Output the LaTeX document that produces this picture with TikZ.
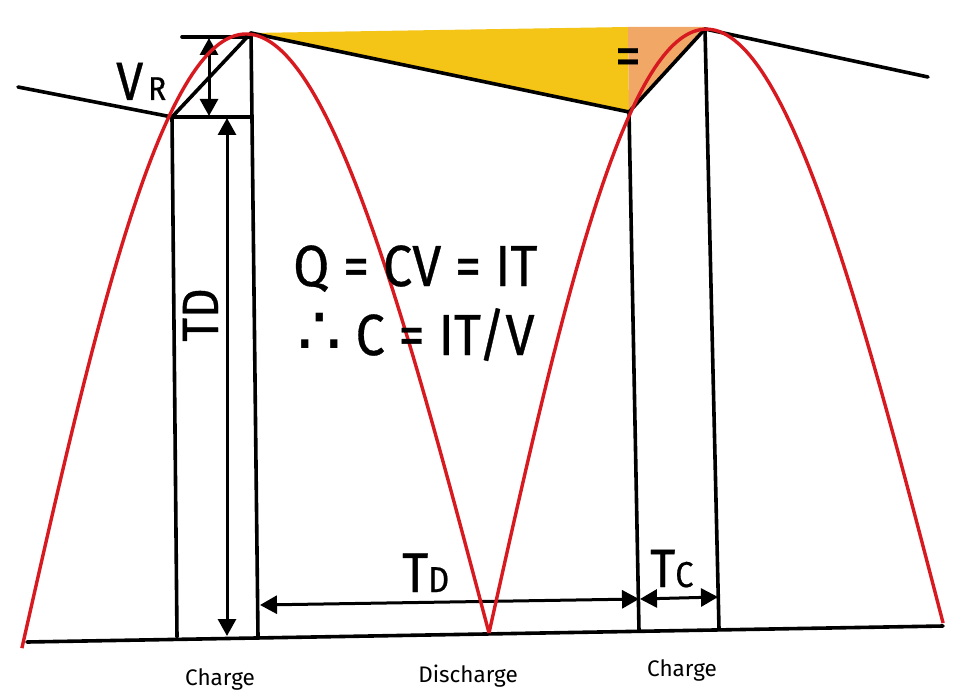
\documentclass[tikz,border=0pt]{standalone}
\usepackage{fontspec}
\setmainfont{Fira Sans}
\newfontfamily\narrowfont{Fira Sans}[FakeStretch=0.9,FakeBold=0.6]
\newfontfamily\symfont{DejaVu Sans}
\usetikzlibrary{arrows.meta,positioning,calc}
\definecolor{wavered}{HTML}{D71920}
\definecolor{fillyellow}{HTML}{F4C416}
\definecolor{fillorange}{HTML}{F1A867}
\tikzset{%
  edge line/.style={
    line width=3.6pt,
    line cap=round
  },
  wave/.style={
    wavered,
    line width=3.4pt
  },
  dim/.style={
    line width=3pt,
    {Triangle[length=17pt,width=18pt]}-{Triangle[length=17pt,width=18pt]}
  },
  big label/.style={
    inner sep=0pt,
    font=\narrowfont\fontsize{58}{62}\selectfont
  },
  phase label/.style={
    inner sep=0pt,
    anchor=base,
    font=\fontsize{22.5}{26}\selectfont
  },
}
\newcommand{\sublabel}[1]{{\fontsize{36}{40}\selectfont #1}}

\begin{document}
\begin{tikzpicture}[x=1pt,y=-1pt,line join=round]
  \useasboundingbox (0,0) rectangle (963,695);
  % corners of the ripple envelope
  \coordinate (lt) at (18,87);
  \coordinate (c1) at (172,117);
  \coordinate (p1) at (251,33);
  \coordinate (c2) at (629,112);
  \coordinate (p2) at (705,29);
  \coordinate (rt) at (928,77);
  \coordinate (c1b) at (177,637);
  \coordinate (p1b) at (258,637);
  \coordinate (c2b) at (639,631);
  \coordinate (p2b) at (719,629);
  \coordinate (c1r) at (252,117);
  \coordinate (vrl) at (182,37);
  \coordinate (vrr) at (250,37);
  \coordinate (bl) at (27,642);
  \coordinate (br) at (943,626);
  \coordinate (ytop) at (628,27);
  \coordinate (otop) at (704,27);
  % dimension ends
  \coordinate (vrtop) at (209,38);
  \coordinate (vrbot) at (209,116);
  \coordinate (tdtop) at (227,118);
  \coordinate (tdbot) at (227,636);
  \coordinate (tdl) at (260,605);
  \coordinate (tdr) at (639,599);
  \coordinate (tcl) at (640,599);
  \coordinate (tcr) at (718,597);

  \fill[fillyellow] (p1) -- (ytop) -- (c2) -- cycle;
  \fill[fillorange] (ytop) -- (otop) -- (p2) -- (c2) -- cycle;

  \draw[edge line] (lt) -- (c1) -- (p1) -- (c2) -- (p2) -- (rt);
  \draw[edge line] (bl) -- (br);
  \draw[edge line] (c1) -- (c1b) (p1) -- (p1b) (c2) -- (c2b) (p2) -- (p2b);
  \draw[edge line] (c1) -- (c1r) (vrl) -- (vrr);

  \path[dim]
    (vrtop) edge (vrbot)
    (tdtop) edge (tdbot)
    (tdl) edge (tdr)
    (tcl) edge (tcr);

  % rectified wave
  \begin{scope}[rotate around={1:(489,633)}]
    \draw[wave] plot[domain=21.7:489,samples=120]
      (\x,{640-(\x-21.7)/467.3*7-606.7*sin((\x-21.7)/467.3*180)});
    \draw[wave] plot[domain=489:943.2,samples=120]
      (\x,{633-(\x-489)/454.2*2-599*sin((\x-489)/454.2*180)});
  \end{scope}

  \node[big label,anchor=base west] (vr) at (116,100)
    {\fontsize{54}{58}\selectfont V\hspace{5pt}\fontsize{33}{36}\selectfont R};
  \node[big label,anchor=base,rotate=90] (tdv) at (218,315)
    {\fontsize{51}{55}\selectfont TD};
  \node[big label,anchor=base west] (tdh) at (402,592)
    {\fontsize{56}{60}\selectfont T\sublabel{D}};
  \node[big label,anchor=base west] (tc) at (650,587)
    {\fontsize{54}{58}\selectfont T\sublabel{C}};
  \node[big label,anchor=base west] (eq1) at (293,286) {Q = CV = IT};
  \node[big label,anchor=base west] (eq2) at (297,355)
    {{\symfont\fontsize{70}{72}\selectfont ∴} C = IT/V};
  \node[big label] (same) at (628,62) {=};

  \node[phase label] (ch1) at (220,685) {Charge};
  \node[phase label] (dis) at (468,682) {Discharge};
  \node[phase label] (ch2) at (682,676) {Charge};
\end{tikzpicture}
\end{document}
